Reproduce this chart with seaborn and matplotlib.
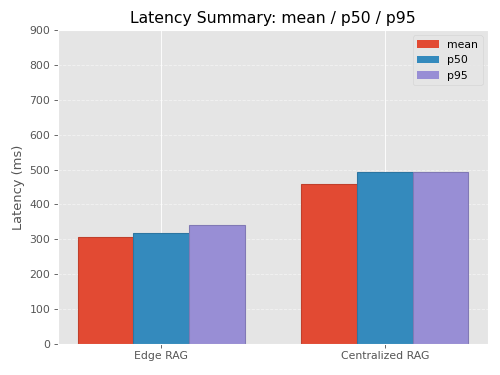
import pandas as pd
import numpy as np
import matplotlib
matplotlib.use('Agg')
import matplotlib.pyplot as plt
import seaborn as sns

plt.style.use('ggplot')

# values
systems = ['Edge RAG', 'Centralized RAG']
stats = ['mean', 'p50', 'p95']
mean_ms = [306, 458]
p50_ms = [317, 492]
p95_ms = [340, 494]

colors = ['#E24A33', '#348ABD', '#988ED5']

df = pd.DataFrame({
    'system': systems * 3,
    'stat': ['mean'] * 2 + ['p50'] * 2 + ['p95'] * 2,
    'latency': mean_ms + p50_ms + p95_ms,
})

# default 6.4x4.8 figure, saved small so it comes out 500x375
fig, ax = plt.subplots(figsize=(6.4, 4.8))
fig.subplots_adjust(left=0.116, right=0.976, bottom=0.083, top=0.92)

sns.barplot(data=df, x='system', y='latency', hue='stat', order=systems,
            hue_order=stats, palette=colors, width=0.75, saturation=1,
            errorbar=None, ax=ax, linewidth=1)

# slightly darker edges like the reference
for cont, c in zip(ax.containers, colors):
    rgb = np.array(matplotlib.colors.to_rgb(c)) * 0.85
    for b in cont:
        b.set_edgecolor(rgb)

ax.set_xlim(-0.4625, 1.4625)
ax.set_ylim(0, 900)
ax.set_title('Latency Summary: mean / p50 / p95')
ax.set_xlabel('')
ax.set_ylabel('Latency (ms)')
ax.yaxis.grid(True, linestyle='--', alpha=0.5)
ax.xaxis.grid(True, linestyle='-')
ax.set_axisbelow(True)
ax.legend(loc='upper right', title=None)

plt.savefig('out.png', dpi=78.125)
plt.close()
